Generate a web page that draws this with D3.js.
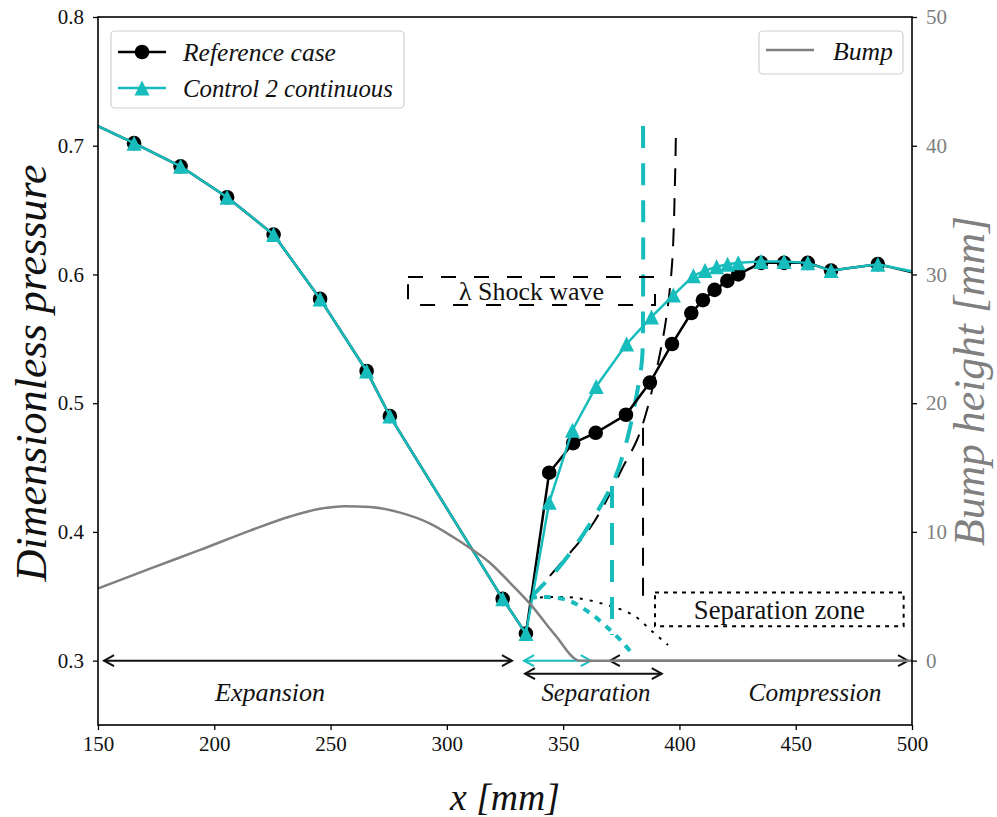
<!DOCTYPE html>
<html><head><meta charset="utf-8">
<script src="https://cdn.jsdelivr.net/npm/d3@7"></script>
<style>body{margin:0;background:#fff} svg{display:block}</style>
</head><body><svg id="c" width="997" height="817"></svg>
<script>
// ---------------- data ----------------
const xTicks = [150, 200, 250, 300, 350, 400, 450, 500];
const yTicks = [0.3, 0.4, 0.5, 0.6, 0.7, 0.8];
const y2Ticks = [0, 10, 20, 30, 40, 50];

const refX = [145.5, 165.5, 185.5, 205.5, 225.5, 245.5, 265.5, 275.5, 324, 334, 344, 354.3, 364, 377, 387.3, 396.8, 405.1, 410.1, 415.1, 420.6, 425.3, 435.1, 445, 455.2, 465.2, 485.3, 505];
const refY = [0.719, 0.702, 0.684, 0.660, 0.631, 0.581, 0.525, 0.490, 0.348, 0.321, 0.446, 0.469, 0.477, 0.491, 0.516, 0.546, 0.570, 0.580, 0.588, 0.595, 0.600, 0.609, 0.609, 0.609, 0.603, 0.608, 0.5995];

const ctlX = [145.5, 165.5, 185.5, 205.5, 225.5, 245.5, 265.5, 275.5, 324, 334, 344, 354, 364.2, 377.3, 388, 397.4, 406, 411, 416, 420.7, 425.3, 435.1, 445, 455.2, 465.2, 485.3, 505];
const ctlY = [0.719, 0.702, 0.684, 0.660, 0.631, 0.581, 0.525, 0.490, 0.348, 0.321, 0.423, 0.479, 0.513, 0.546, 0.567, 0.584, 0.599, 0.603, 0.606, 0.608, 0.609, 0.610, 0.610, 0.609, 0.603, 0.608, 0.6005];

const bumpX = [150, 172.4, 193.9, 215.4, 232.6, 245.5, 256.2, 267, 279.9, 292.8, 305.7, 318.5, 327.1, 335.7, 346.5, 357.2, 500];
const bumpH = [5.6, 7.15, 8.6, 10.1, 11.2, 11.8, 12.0, 11.93, 11.5, 10.65, 9.25, 7.6, 6.06, 4.43, 2.0, 0, 0];

// shock sketches (x [mm], pressure)
const ctlShockX = [335.75, 346.5, 356.4, 365.85, 372.3, 377.45, 381.75, 383.9, 384.35, 384.35];
const ctlShockY = [0.3486, 0.3688, 0.3921, 0.4193, 0.4419, 0.4714, 0.5079, 0.5335, 0.5801, 0.7184];
const ctlRearX = [371.0, 371.0];
const ctlRearY = [0.4356, 0.3199];
const ctlBubbleX = [335.75, 342.2, 351.7, 361.6, 370.2, 375.8, 380.1];
const ctlBubbleY = [0.3486, 0.3494, 0.3471, 0.3370, 0.3238, 0.3137, 0.3044];

const refShockX = [335.75, 360.3, 367.1, 375.7, 381.75, 386.05, 390.8, 394.2, 396.8, 398.1, 398.5];
const refShockY = [0.3486, 0.3999, 0.4193, 0.4504, 0.4714, 0.4947, 0.5312, 0.5646, 0.6073, 0.6734, 0.7122];
const refRearX = [384.35, 384.35];
const refRearY = [0.481, 0.3424];
const refBubbleX = [335.75, 345.6, 355.96, 368.9, 380.1, 388.6, 395.1];
const refBubbleY = [0.3486, 0.3494, 0.3486, 0.3432, 0.3354, 0.3222, 0.3121];

// arrows: [x1, x2, pressure]
const arrowNames = ["Expansion", "SeparationCtl", "Separation", "Compression"];
const arrowX1 = [152.6, 333.2, 333.6, 370.1];
const arrowX2 = [328.0, 361.9, 392.4, 498.3];
const arrowP = [0.3, 0.3, 0.2899, 0.3];

const zoneLabels = ["Expansion", "Separation", "Compression"];
const zoneX = [224, 364.1, 458.3];
const zoneP = 0.2756;

// ---------------- drawing ----------------
const M = {l: 98, r: 912, t: 17, b: 725};
const x = d3.scaleLinear([150, 500], [M.l, M.r]);
const y = d3.scaleLinear([0.25, 0.8], [M.b, M.t]);
const y2 = d3.scaleLinear([-5, 50], [M.b, M.t]);
const SERIF = '"Liberation Serif","DejaVu Serif",serif';
const CYAN = "#17bcbc";
const GRAY = "#808080";

const svg = d3.select("#c");
svg.append("rect").attr("width", 997).attr("height", 817).attr("fill", "#fff");
svg.append("defs").append("clipPath").attr("id", "clip").append("rect")
  .attr("x", M.l).attr("y", M.t).attr("width", M.r - M.l).attr("height", M.b - M.t);

function fit(t, w) {
  const fs = parseFloat(t.attr("font-size"));
  const cw = t.node().getComputedTextLength();
  if (cw > 0) t.attr("font-size", fs * w / cw);
  return t;
}

const plot = svg.append("g").attr("clip-path", "url(#clip)");

// arrows
function arrow(g, x1, x2, pv, color) {
  const a = x(x1), b = x(x2), py = y(pv);
  g.append("line").attr("x1", a).attr("x2", b).attr("y1", py).attr("y2", py)
    .attr("stroke", color).attr("stroke-width", 2);
  g.append("path").attr("d", `M${a + 10},${py - 5.5}L${a},${py}L${a + 10},${py + 5.5}`)
    .attr("fill", "none").attr("stroke", color).attr("stroke-width", 2);
  g.append("path").attr("d", `M${b - 10},${py - 5.5}L${b},${py}L${b - 10},${py + 5.5}`)
    .attr("fill", "none").attr("stroke", color).attr("stroke-width", 2);
}
arrowX1.forEach((v, i) => arrow(plot, v, arrowX2[i], arrowP[i], i === 1 ? CYAN : "#111"));

zoneLabels.forEach((s, i) => {
  const t = plot.append("text").attr("x", x(zoneX[i])).attr("y", y(zoneP)).attr("dy", "0.35em")
    .attr("text-anchor", "middle").attr("font-family", SERIF).attr("font-style", "italic")
    .attr("font-size", 20).attr("fill", "#111").text(s);
  fit(t, [110, 109, 133][i]);
});

const lineXY = (xs, ys, curve) => d3.line().x((d, i) => x(xs[i])).y((d, i) => y(ys[i])).curve(curve || d3.curveLinear)(xs);

// shock sketches
plot.append("path").attr("d", lineXY(refShockX, refShockY, d3.curveCatmullRom))
  .attr("fill", "none").attr("stroke", "#000").attr("stroke-width", 2).attr("stroke-dasharray", "18,12");
plot.append("path").attr("d", lineXY(refRearX, refRearY))
  .attr("fill", "none").attr("stroke", "#000").attr("stroke-width", 2).attr("stroke-dasharray", "18,12");
plot.append("path").attr("d", lineXY(refBubbleX, refBubbleY, d3.curveCatmullRom))
  .attr("fill", "none").attr("stroke", "#000").attr("stroke-width", 2).attr("stroke-dasharray", "3,7");
plot.append("path").attr("d", lineXY(ctlShockX, ctlShockY, d3.curveCatmullRom))
  .attr("fill", "none").attr("stroke", CYAN).attr("stroke-width", 4).attr("stroke-dasharray", "22,15");
plot.append("path").attr("d", lineXY(ctlRearX, ctlRearY))
  .attr("fill", "none").attr("stroke", CYAN).attr("stroke-width", 4).attr("stroke-dasharray", "22,15");
plot.append("path").attr("d", lineXY(ctlBubbleX, ctlBubbleY, d3.curveCatmullRom))
  .attr("fill", "none").attr("stroke", CYAN).attr("stroke-width", 4).attr("stroke-dasharray", "7,7");

// text boxes
function box(x1, x2, p1, p2, dash, label, tw) {
  plot.append("rect").attr("x", x(x1)).attr("y", y(p1)).attr("width", x(x2) - x(x1)).attr("height", y(p2) - y(p1))
    .attr("fill", "none").attr("stroke", "#000").attr("stroke-width", 2).attr("stroke-dasharray", dash);
  const t = plot.append("text").attr("x", (x(x1) + x(x2)) / 2 + 0).attr("y", (y(p1) + y(p2)) / 2).attr("dy", "0.35em")
    .attr("text-anchor", "middle").attr("font-family", SERIF).attr("font-size", 20).attr("fill", "#111").text(label);
  fit(t, tw);
}
box(283.3, 389.5, 0.598, 0.5762, "15,18", "λ Shock wave", 145);
box(389.5, 496.4, 0.3530, 0.3267, "4,5", "Separation zone", 171);

// series
const lineGen = (xs, ys) => lineXY(xs, ys);
plot.append("path").attr("d", lineGen(refX, refY)).attr("fill", "none").attr("stroke", "#000").attr("stroke-width", 2.5);
plot.selectAll(".c").data(refX).join("circle").attr("cx", d => x(d)).attr("cy", (d, i) => y(refY[i]))
  .attr("r", 7.3).attr("fill", "#000");
plot.append("path").attr("d", lineGen(ctlX, ctlY)).attr("fill", "none").attr("stroke", CYAN).attr("stroke-width", 2.5);
const tri = h => `M0,${-h}L${-h},${h}L${h},${h}Z`;
plot.selectAll(".t").data(ctlX).join("path").attr("d", tri(7.5))
  .attr("transform", (d, i) => `translate(${x(d)},${y(ctlY[i])})`).attr("fill", CYAN);

// bump (secondary axis, drawn on top)
plot.append("path").attr("d", d3.line().x((d, i) => x(bumpX[i])).y((d, i) => y2(bumpH[i])).curve(d3.curveMonotoneX)(bumpX))
  .attr("fill", "none").attr("stroke", GRAY).attr("stroke-width", 2.5);

// axes
const fontAxis = g => g.selectAll("text").attr("font-family", SERIF).attr("font-size", 21);
const gx = svg.append("g").attr("transform", `translate(0,${M.b})`)
  .call(d3.axisBottom(x).tickValues(xTicks).tickSize(5).tickPadding(6).tickFormat(d3.format("d")));
fontAxis(gx); gx.selectAll("text").attr("fill", "#111");
const gy = svg.append("g").attr("transform", `translate(${M.l},0)`)
  .call(d3.axisLeft(y).tickValues(yTicks).tickSize(5).tickPadding(9).tickFormat(d3.format(".1f")));
fontAxis(gy); gy.selectAll("text").attr("fill", "#111");
const gy2 = svg.append("g").attr("transform", `translate(${M.r},0)`)
  .call(d3.axisRight(y2).tickValues(y2Ticks).tickSize(5).tickPadding(9).tickFormat(d3.format("d")));
fontAxis(gy2); gy2.selectAll("text").attr("fill", GRAY);
[gx, gy, gy2].forEach(g => { g.select(".domain").remove(); g.selectAll("line").attr("stroke", "#000").attr("stroke-width", 1.3); });
svg.append("rect").attr("x", M.l).attr("y", M.t).attr("width", M.r - M.l).attr("height", M.b - M.t)
  .attr("fill", "none").attr("stroke", "#000").attr("stroke-width", 1.6);

// axis labels
fit(svg.append("text").attr("x", 505).attr("y", 797).attr("dy", "0.35em").attr("text-anchor", "middle")
  .attr("font-family", SERIF).attr("font-style", "italic").attr("font-size", 32).attr("fill", "#111").text("x [mm]"), 110);
fit(svg.append("text").attr("transform", "translate(31,373) rotate(-90)").attr("dy", "0.35em").attr("text-anchor", "middle")
  .attr("font-family", SERIF).attr("font-style", "italic").attr("font-size", 32).attr("fill", "#111").text("Dimensionless pressure"), 417);
fit(svg.append("text").attr("transform", "translate(970,381) rotate(-90)").attr("dy", "0.33em").attr("text-anchor", "middle")
  .attr("font-family", SERIF).attr("font-style", "italic").attr("font-size", 30).attr("fill", GRAY).text("Bump height [mm]"), 330);

// legends
const lg = svg.append("g");
lg.append("rect").attr("x", 111).attr("y", 31).attr("width", 293).attr("height", 77).attr("rx", 4)
  .attr("fill", "#fff").attr("fill-opacity", 0.8).attr("stroke", "#d0d0d0").attr("stroke-width", 1.2);
const legNames = ["Reference case", "Control 2 continuous"];
const legW = [153, 210];
legNames.forEach((n, i) => {
  const cy = [52, 88][i];
  const col = i === 0 ? "#000" : CYAN;
  lg.append("line").attr("x1", 118).attr("x2", 166).attr("y1", cy).attr("y2", cy).attr("stroke", col).attr("stroke-width", 2.5);
  if (i === 0) lg.append("circle").attr("cx", 142).attr("cy", cy).attr("r", 7.3).attr("fill", col);
  else lg.append("path").attr("d", tri(7.5)).attr("transform", `translate(142,${cy})`).attr("fill", col);
  fit(lg.append("text").attr("x", 183).attr("y", cy).attr("dy", "0.35em").attr("font-family", SERIF)
    .attr("font-style", "italic").attr("font-size", 20).attr("fill", "#111").text(n), legW[i]);
});
lg.append("rect").attr("x", 759).attr("y", 31).attr("width", 144).attr("height", 43).attr("rx", 4)
  .attr("fill", "#fff").attr("fill-opacity", 0.8).attr("stroke", "#d0d0d0").attr("stroke-width", 1.2);
lg.append("line").attr("x1", 766).attr("x2", 814).attr("y1", 50).attr("y2", 50).attr("stroke", GRAY).attr("stroke-width", 2.5);
fit(lg.append("text").attr("x", 833).attr("y", 51).attr("dy", "0.35em").attr("font-family", SERIF)
  .attr("font-style", "italic").attr("font-size", 20).attr("fill", "#111").text("Bump"), 60);
</script></body></html>
